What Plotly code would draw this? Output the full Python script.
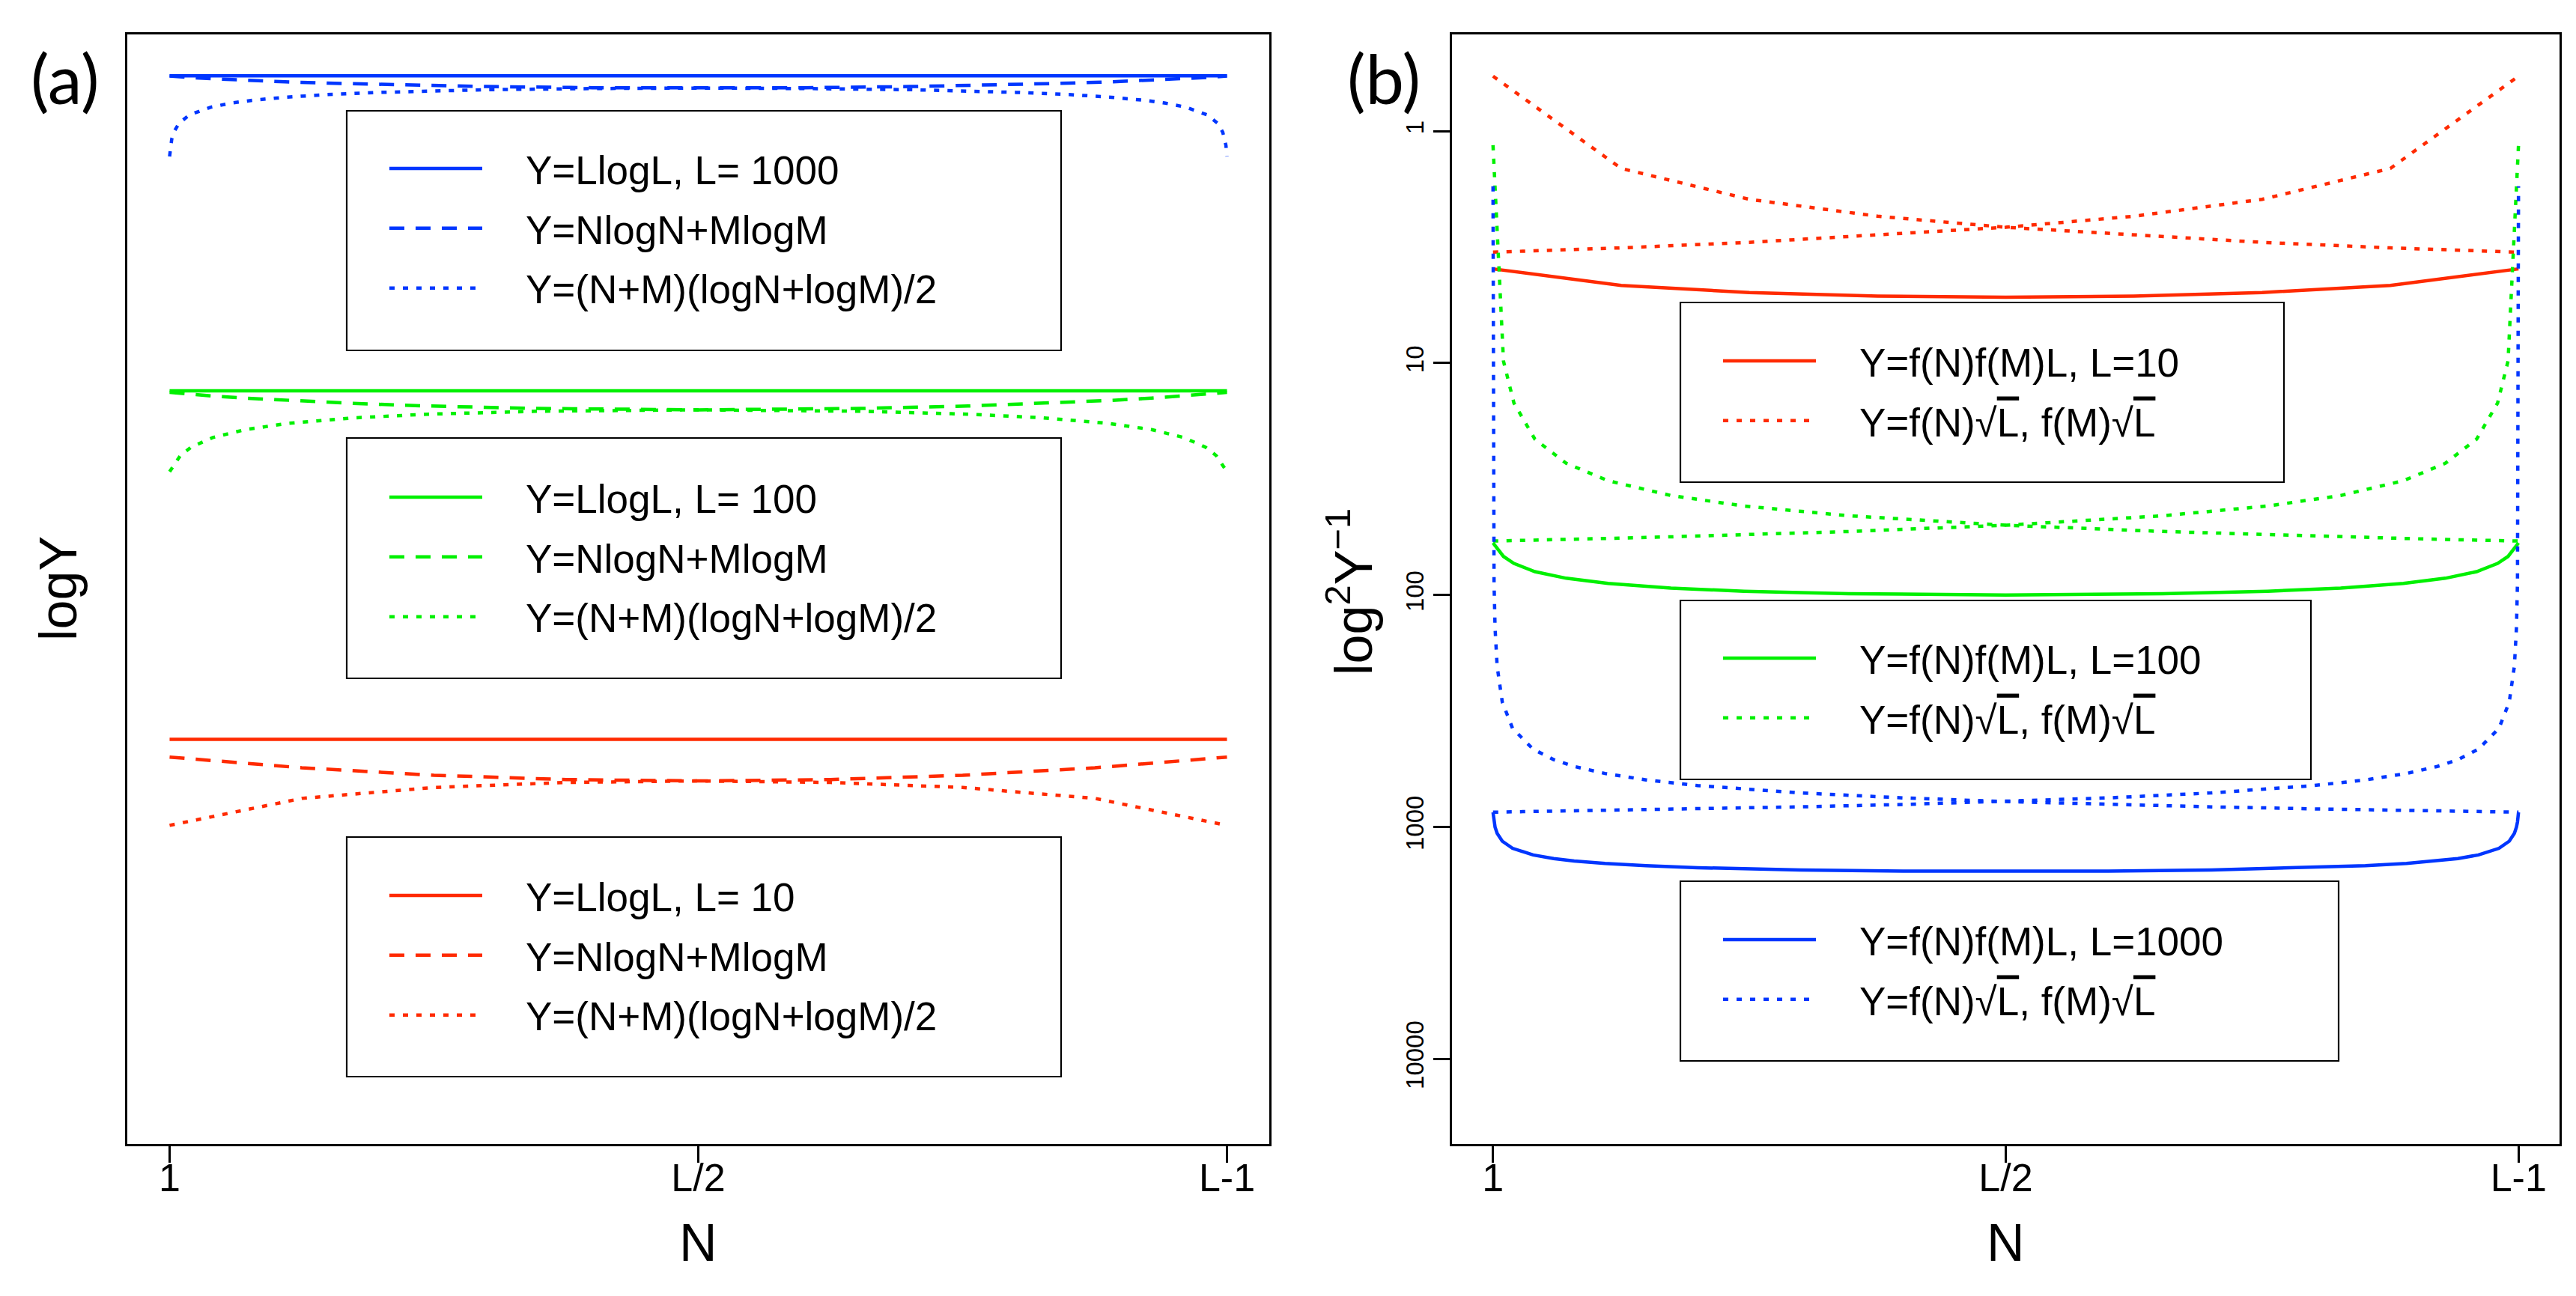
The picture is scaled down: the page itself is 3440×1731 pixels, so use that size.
import plotly.graph_objects as go

W, H = 3440, 1731

# ---------------- data ----------------
# sampled N values for each L
N10 = [1, 2, 3, 4, 5, 6, 7, 8, 9]
N100 = [1, 2, 3, 5, 8, 12, 18, 25, 35, 50, 65, 75, 82, 88, 92, 95, 97, 98, 99]
N1000 = [1, 2, 3, 5, 10, 20, 40, 60, 80, 110, 150, 200, 300, 400, 500, 600, 700,
         800, 850, 890, 920, 940, 960, 980, 990, 995, 997, 998, 999]

# panel (a): logY
a10_LlogL = [3.137, 3.137, 3.137, 3.137, 3.137, 3.137, 3.137, 3.137, 3.137]
a10_NlogN = [2.984, 2.892, 2.828, 2.791, 2.779, 2.791, 2.828, 2.892, 2.984]
a10_mean = [2.397, 2.629, 2.723, 2.766, 2.779, 2.766, 2.723, 2.629, 2.397]

a100_LlogL = [6.132, 6.132, 6.132, 6.132, 6.132, 6.132, 6.132, 6.132, 6.132, 6.132,
              6.132, 6.132, 6.132, 6.132, 6.132, 6.132, 6.132, 6.132, 6.132]
a100_NlogN = [6.120, 6.111, 6.103, 6.088, 6.070, 6.049, 6.024, 6.002, 5.981, 5.969,
              5.981, 6.002, 6.024, 6.049, 6.070, 6.088, 6.103, 6.111, 6.120]
a100_mean = [5.437, 5.576, 5.648, 5.731, 5.799, 5.853, 5.900, 5.932, 5.957, 5.969,
             5.957, 5.932, 5.900, 5.853, 5.799, 5.731, 5.648, 5.576, 5.437]

a1000_LlogL = [8.840, 8.840, 8.840, 8.840, 8.840, 8.840, 8.840, 8.840, 8.840, 8.840,
               8.840, 8.840, 8.840, 8.840, 8.840, 8.840, 8.840, 8.840, 8.840, 8.840,
               8.840, 8.840, 8.840, 8.840, 8.840, 8.840, 8.840, 8.840, 8.840]
a1000_NlogN = [8.839, 8.838, 8.837, 8.836, 8.832, 8.826, 8.816, 8.807, 8.799, 8.789,
               8.777, 8.765, 8.748, 8.738, 8.735, 8.738, 8.748, 8.765, 8.777, 8.789,
               8.799, 8.807, 8.816, 8.826, 8.832, 8.836, 8.837, 8.838, 8.839]
a1000_mean = [8.147, 8.243, 8.295, 8.356, 8.434, 8.506, 8.571, 8.607, 8.631, 8.656,
              8.679, 8.698, 8.721, 8.731, 8.735, 8.731, 8.721, 8.698, 8.679, 8.656,
              8.631, 8.607, 8.571, 8.506, 8.434, 8.356, 8.295, 8.243, 8.147]

# panel (b): log^2 Y^-1 (log axis, reversed)
b10_prod = [3.93, 4.63, 4.97, 5.15, 5.21, 5.15, 4.97, 4.63, 3.93]
b10_fN = [0.58, 1.45, 1.97, 2.33, 2.60, 2.81, 3.02, 3.19, 3.33]
b10_fM = [3.33, 3.19, 3.02, 2.81, 2.60, 2.33, 1.97, 1.45, 0.58]

b100_prod = [59.7, 68.3, 73.2, 79.4, 84.8, 89.3, 93.5, 96.5, 98.9, 100.1,
             98.9, 96.5, 93.5, 89.3, 84.8, 79.4, 73.2, 68.3, 59.7]
b100_fN = [1.15, 9.82, 14.9, 21.3, 27.1, 32.2, 37.3, 41.4, 45.6, 50.1,
           53.3, 55.1, 56.2, 57.1, 57.7, 58.1, 58.3, 58.5, 58.6]
b100_fM = [58.6, 58.5, 58.3, 58.1, 57.7, 57.1, 56.2, 55.1, 53.3, 50.1,
           45.6, 41.4, 37.3, 32.2, 27.1, 21.3, 14.9, 9.82, 1.15]

b1000_prod = [866.8, 953.3, 1003.9, 1067.5, 1153.5, 1238.9, 1322.9, 1371.0, 1404.3, 1439.9,
              1472.9, 1501.3, 1535.3, 1552.0, 1557.1, 1552.0, 1535.3, 1501.3, 1472.9, 1439.9,
              1404.3, 1371.0, 1322.9, 1238.9, 1153.5, 1067.5, 1003.9, 953.3, 866.8]
b1000_fN = [1.73, 88.4, 139.1, 202.9, 289.6, 376.2, 462.8, 513.5, 549.5, 589.3,
            628.1, 664.0, 714.7, 750.7, 778.6, 801.3, 820.6, 837.3, 844.9, 850.6,
            854.8, 857.5, 860.1, 862.7, 863.9, 864.6, 864.8, 865.0, 865.1]
b1000_fM = [865.1, 865.0, 864.8, 864.6, 863.9, 862.7, 860.1, 857.5, 854.8, 850.6,
            844.9, 837.3, 820.6, 801.3, 778.6, 750.7, 714.7, 664.0, 628.1, 589.3,
            549.5, 513.5, 462.8, 376.2, 289.6, 202.9, 139.1, 88.4, 1.73]

x_tick_vals = [0, 0.5, 1]
x_tick_text = ["1", "L/2", "L-1"]
b_y_ticks = [1, 10, 100, 1000, 10000]
b_y_tick_text = ["1", "10", "100", "1000", "10000"]

# ---------------- styling ----------------
RED = "#FF2A00"
GREEN = "#00F000"
BLUE = "#0036FF"
FONT = "Liberation Sans, Arial, sans-serif"
LW = 4.5
DASH = "20px,15px"
DOT = "7px,11px"


def px(x):
    return x / W


def py(y):
    return 1 - y / H


def pos(Ns, L):
    return [(n - 1) / (L - 2) for n in Ns]


fig = go.Figure()


def add(xa, ya, Ns, L, ys, color, dash, name, legend, group, showlegend=True):
    fig.add_trace(go.Scatter(
        x=pos(Ns, L), y=ys, mode="lines", xaxis=xa, yaxis=ya,
        line=dict(color=color, width=LW, dash=dash),
        name=name, legend=legend, legendgroup=group, showlegend=showlegend,
        hoverinfo="skip"))


sp = "\u2002\u2002"
# panel (a)
for L, Ns, s, d, m, col, leg in [
    (1000, N1000, a1000_LlogL, a1000_NlogN, a1000_mean, BLUE, "legend"),
    (100, N100, a100_LlogL, a100_NlogN, a100_mean, GREEN, "legend2"),
    (10, N10, a10_LlogL, a10_NlogN, a10_mean, RED, "legend3"),
]:
    add("x", "y", Ns, L, s, col, "solid", sp + f"Y=LlogL, L= {L}", leg, f"a{L}s")
    add("x", "y", Ns, L, d, col, DASH, sp + "Y=NlogN+MlogM", leg, f"a{L}d")
    add("x", "y", Ns, L, m, col, DOT, sp + "Y=(N+M)(logN+logM)/2", leg, f"a{L}m")

# panel (b)
sq = "\u221a<span style='text-decoration:overline'>L</span>"
for L, Ns, s, fn, fm, col, leg in [
    (10, N10, b10_prod, b10_fN, b10_fM, RED, "legend4"),
    (100, N100, b100_prod, b100_fN, b100_fM, GREEN, "legend5"),
    (1000, N1000, b1000_prod, b1000_fN, b1000_fM, BLUE, "legend6"),
]:
    add("x2", "y2", Ns, L, s, col, "solid", sp + f"Y=f(N)f(M)L, L={L}", leg, f"b{L}s")
    add("x2", "y2", Ns, L, fn, col, DOT, sp + f"Y=f(N){sq}, f(M){sq}", leg, f"b{L}d")
    add("x2", "y2", Ns, L, fm, col, DOT, "f(M)", leg, f"b{L}d", showlegend=False)

axis_common = dict(showline=True, linecolor="black", linewidth=2.5, mirror=True,
                   showgrid=False, zeroline=False)

xa = dict(axis_common, domain=[px(162), px(1687)], range=[-0.04, 1.04],
          tickmode="array", tickvals=x_tick_vals, ticktext=x_tick_text,
          ticks="outside", ticklen=22, tickwidth=2.5, tickcolor="black",
          ticklabelstandoff=-24,
          tickfont=dict(family=FONT, size=52, color="black"))

layout = dict(
    width=W, height=H, paper_bgcolor="white", plot_bgcolor="white",
    margin=dict(l=0, r=0, t=0, b=0), showlegend=True,
    xaxis=dict(xa, anchor="y"),
    yaxis=dict(axis_common, domain=[py(1520), py(38)], range=[-0.342, 9.196],
               showticklabels=False, ticks="", anchor="x"),
    xaxis2=dict(xa, domain=[px(1931), px(3410)], anchor="y2"),
    yaxis2=dict(axis_common, domain=[py(1520), py(38)], type="log",
                range=[4.368, -0.4165], anchor="x2",
                tickmode="array", tickvals=b_y_ticks, ticktext=b_y_tick_text,
                tickangle=-90, ticks="outside", ticklen=22, tickwidth=2.5,
                tickcolor="black", tickfont=dict(family=FONT, size=33, color="black")),
)

legend_pos = {
    "legend": (507, 176), "legend2": (507, 615), "legend3": (507, 1147),
    "legend4": (2288, 433), "legend5": (2288, 830), "legend6": (2288, 1206),
}
for k, (lx, ly) in legend_pos.items():
    layout[k] = dict(x=px(lx), y=py(ly), xanchor="left", yanchor="top",
                     bgcolor="rgba(0,0,0,0)", borderwidth=0, itemwidth=124,
                     traceorder="grouped", tracegroupgap=8,
                     font=dict(family=FONT, size=53, color="black"))

boxes = [(455, 140, 1409, 460), (455, 577, 1409, 898), (455, 1110, 1409, 1430),
         (2236, 396, 3042, 636), (2236, 794, 3078, 1033), (2236, 1169, 3115, 1409)]
layout["shapes"] = [dict(type="rect", xref="paper", yref="paper",
                         x0=px(a), x1=px(c), y0=py(d), y1=py(b),
                         line=dict(color="black", width=2.2), fillcolor="rgba(0,0,0,0)",
                         layer="below")
                    for a, b, c, d in boxes]

ann = []


def note(text, x, y, size, angle=0, family=FONT):
    ann.append(dict(text=text, x=px(x), y=py(y), xref="paper", yref="paper",
                    showarrow=False, textangle=angle, xanchor="center", yanchor="middle",
                    font=dict(family=family, size=size, color="black")))


note("(a)", 79, 95, 92, family="Lato, Open Sans, sans-serif")
note("(b)", 1840, 95, 92, family="Lato, Open Sans, sans-serif")
note("logY", 70, 778, 70, angle=-90)
note("log<sup>2</sup>Y<sup>\u22121</sup>", 1795, 783, 70, angle=-90)
note("N", 925, 1652, 70)
note("N", 2670, 1652, 70)
layout["annotations"] = ann

fig.update_layout(**layout)
fig.write_html("out.html")
